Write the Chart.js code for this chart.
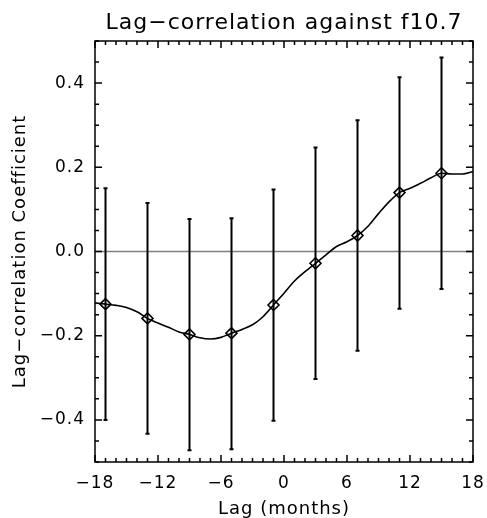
<!DOCTYPE html>
<html>
<head>
<meta charset="utf-8">
<script src="https://cdn.jsdelivr.net/npm/chart.js@4"></script>
<style>
    body { margin: 0; background: #fff; }
    #wrap { width: 487px; height: 518px; }
</style>
</head>
<body>
<div id="wrap"><canvas id="chart" width="487" height="518"></canvas></div>
<script>
// Curva de correlación desfasada (un valor por mes)
const lagMonths = [-18, -17, -16, -15, -14, -13, -12, -11, -10, -9, -8, -7, -6, -5, -4, -3, -2, -1,
    0, 1, 2, 3, 4, 5, 6, 7, 8, 9, 10, 11, 12, 13, 14, 15, 16, 17, 18];
const lagCoef = [-0.122, -0.125, -0.128, -0.133, -0.143, -0.159, -0.170, -0.180, -0.191, -0.197,
    -0.205, -0.208, -0.204, -0.194, -0.185, -0.174, -0.155, -0.127,
    -0.099, -0.070, -0.048, -0.028, -0.008, 0.012, 0.023, 0.038, 0.060, 0.090, 0.118, 0.140,
    0.150, 0.162, 0.175, 0.186, 0.184, 0.184, 0.190];

// Marcadores con barras de error
const markerLags = [-17, -13, -9, -5, -1, 3, 7, 11, 15];
const markerCoef = [-0.125, -0.159, -0.197, -0.194, -0.127, -0.028, 0.038, 0.140, 0.186];
const errLow = [-0.400, -0.433, -0.472, -0.470, -0.402, -0.303, -0.236, -0.136, -0.089];
const errHigh = [0.150, 0.115, 0.077, 0.079, 0.147, 0.247, 0.312, 0.414, 0.461];

// Etiquetas de los ejes
const xTickValues = [-18, -12, -6, 0, 6, 12, 18];
const yTickValues = [-0.4, -0.2, 0, 0.2, 0.4];

const FONT = "'DejaVu Sans', sans-serif";

function fmtMinus(s) {
    return s.replace('-', '\u2212');
}

// Letra un poco más espaciada, como la fuente del original
// (el contexto se reinicia al redimensionar el canvas, por eso se pone en cada paso)
const spacingPlugin = {
    id: 'spacingPlugin',
    beforeLayout(chart) { chart.ctx.letterSpacing = '1px'; },
    beforeDraw(chart) { chart.ctx.letterSpacing = '1px'; }
};

// Marco, ticks hacia dentro, línea del cero y barras de error
const framePlugin = {
    id: 'framePlugin',
    beforeDatasetsDraw(chart) {
        const { ctx, chartArea: a, scales: { x, y } } = chart;
        ctx.save();
        // línea del cero
        const y0 = y.getPixelForValue(0);
        ctx.strokeStyle = '#808080';
        ctx.lineWidth = 1.5;
        ctx.beginPath();
        ctx.moveTo(a.left, y0);
        ctx.lineTo(a.right, y0);
        ctx.stroke();

        // barras de error
        ctx.strokeStyle = '#000';
        ctx.lineWidth = 2;
        markerLags.forEach((m, i) => {
            const px = x.getPixelForValue(m);
            const top = y.getPixelForValue(errHigh[i]);
            const bot = y.getPixelForValue(errLow[i]);
            ctx.beginPath();
            ctx.moveTo(px, top);
            ctx.lineTo(px, bot);
            ctx.moveTo(px - 2, top);
            ctx.lineTo(px + 2, top);
            ctx.moveTo(px - 2, bot);
            ctx.lineTo(px + 2, bot);
            ctx.stroke();
        });
        ctx.restore();
    },
    afterDraw(chart) {
        const { ctx, chartArea: a, scales: { x, y } } = chart;
        ctx.save();
        ctx.strokeStyle = '#000';
        ctx.lineWidth = 1.5;
        ctx.strokeRect(a.left, a.top, a.right - a.left, a.bottom - a.top);

        ctx.beginPath();
        for (let m = -18; m <= 18; m++) {
            const px = x.getPixelForValue(m);
            const len = m % 6 === 0 ? 7 : 4;
            ctx.moveTo(px, a.bottom);
            ctx.lineTo(px, a.bottom - len);
            ctx.moveTo(px, a.top);
            ctx.lineTo(px, a.top + len);
        }
        for (let k = -10; k <= 10; k++) {
            const py = y.getPixelForValue(k * 0.05);
            const len = k % 4 === 0 ? 7 : 4;
            ctx.moveTo(a.left, py);
            ctx.lineTo(a.left + len, py);
            ctx.moveTo(a.right, py);
            ctx.lineTo(a.right - len, py);
        }
        ctx.stroke();
        ctx.restore();
    }
};

document.addEventListener('DOMContentLoaded', function() {
    const canvas = document.getElementById('chart');
    new Chart(canvas, {
        type: 'scatter',
        data: {
            datasets: [{
                label: 'curve',
                data: lagMonths.map((m, i) => ({ x: m, y: lagCoef[i] })),
                showLine: true,
                borderColor: '#000',
                borderWidth: 1.6,
                pointRadius: 0,
                tension: 0.4,
                cubicInterpolationMode: 'monotone',
                fill: false
            }, {
                label: 'markers',
                data: markerLags.map((m, i) => ({ x: m, y: markerCoef[i] })),
                showLine: false,
                pointStyle: 'rectRot',
                pointRadius: 5.5,
                pointBorderWidth: 1.6,
                borderColor: '#000',
                backgroundColor: 'rgba(255,255,255,0)'
            }]
        },
        options: {
            responsive: false,
            animation: false,
            layout: { padding: { left: 0, right: 14, top: 0, bottom: 0 } },
            plugins: {
                legend: { display: false },
                tooltip: { enabled: false },
                title: {
                    display: true,
                    text: 'Lag\u2212correlation against f10.7',
                    fullSize: false,
                    color: '#000',
                    font: { family: FONT, size: 22, weight: 'normal', lineHeight: 1 },
                    padding: { top: 12, bottom: 7 }
                }
            },
            scales: {
                x: {
                    type: 'linear',
                    min: -18,
                    max: 18,
                    grid: { display: false, drawTicks: false },
                    border: { display: false },
                    afterBuildTicks: s => { s.ticks = xTickValues.map(v => ({ value: v })); },
                    afterFit: s => { s.height = 56; s.paddingRight = 0; s.paddingLeft = 0; },
                    ticks: {
                        autoSkip: false,
                        maxRotation: 0,
                        padding: 11,
                        color: '#000',
                        font: { family: FONT, size: 17 },
                        callback: v => fmtMinus(String(v))
                    },
                    title: {
                        display: true,
                        text: 'Lag (months)',
                        color: '#000',
                        font: { family: FONT, size: 18, lineHeight: 1 },
                        padding: { top: 0, bottom: 0 }
                    }
                },
                y: {
                    type: 'linear',
                    min: -0.5,
                    max: 0.5,
                    grid: { display: false, drawTicks: false },
                    border: { display: false },
                    afterBuildTicks: s => { s.ticks = yTickValues.map(v => ({ value: v })); },
                    afterFit: s => { s.width = 95; s.paddingTop = 0; s.paddingBottom = 0; },
                    ticks: {
                        padding: 10,
                        color: '#000',
                        font: { family: FONT, size: 17 },
                        callback: v => fmtMinus(v.toFixed(1))
                    },
                    title: {
                        display: true,
                        text: 'Lag\u2212correlation Coefficient',
                        color: '#000',
                        font: { family: FONT, size: 18, lineHeight: 1 },
                        padding: { top: 11, bottom: 0 }
                    }
                }
            }
        },
        plugins: [spacingPlugin, framePlugin]
    });
});
</script>
</body>
</html>
